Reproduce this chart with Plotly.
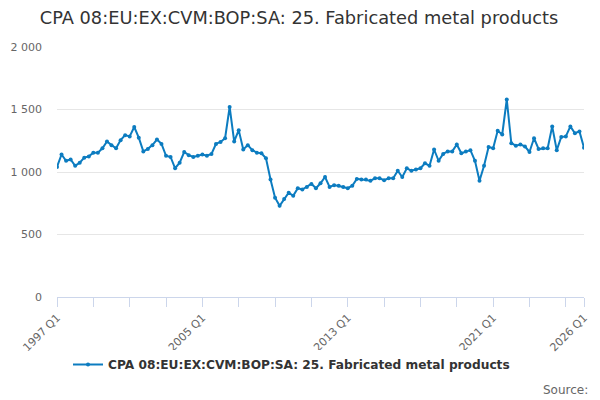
import plotly.graph_objects as go

periods = [f"{y} Q{q}" for y in range(1997, 2026) for q in range(1, 5)] + ["2026 Q1"]

values = [
    1040, 1140, 1090, 1100, 1050, 1075, 1115, 1125, 1155, 1155, 1190, 1245,
    1215, 1190, 1255, 1295, 1285, 1360, 1275, 1165, 1185, 1215, 1260, 1225,
    1130, 1120, 1030, 1075, 1160, 1135, 1120, 1130, 1140, 1130, 1145, 1225,
    1240, 1270, 1520, 1245, 1335, 1180, 1215, 1175, 1155, 1150, 1110, 940,
    795, 730, 785, 835, 810, 870, 860, 880, 905, 870, 910, 960,
    880, 895, 890, 880, 870, 890, 945, 940, 940, 930, 950, 950,
    935, 950, 950, 1010, 960, 1030, 1010, 1020, 1030, 1070, 1050, 1180,
    1090, 1145, 1165, 1165, 1220, 1150, 1165, 1175, 1090, 930, 1050, 1200,
    1190, 1330, 1300, 1580, 1230, 1210, 1220, 1205, 1160, 1270, 1185, 1190,
    1190, 1365, 1175, 1280, 1285, 1365, 1310, 1325, 1195,
]

x_tick_labels = ["1997 Q1", "2005 Q1", "2013 Q1", "2021 Q1", "2026 Q1"]
y_tick_values = [0, 500, 1000, 1500, 2000]
y_tick_labels = ["0", "500", "1 000", "1 500", "2 000"]

series_name = "CPA 08:EU:EX:CVM:BOP:SA: 25. Fabricated metal products"
idx = list(range(len(periods)))

# tick marks every 8 quarters, labels only on selected periods
tick_periods = [p for i, p in enumerate(periods) if i % 8 == 0 or i == len(periods) - 1]
x_tick_pos = [periods.index(p) for p in tick_periods]
x_tick_text = [p if p in x_tick_labels else "" for p in tick_periods]

fig = go.Figure()
fig.add_trace(go.Scatter(
    x=idx, y=values, mode="lines+markers", name=series_name,
    line=dict(color="#0c7cc0", width=2),
    marker=dict(color="#0c7cc0", size=4),
))

font = "DejaVu Sans, Verdana, sans-serif"
fig.update_layout(
    width=600, height=400,
    paper_bgcolor="white", plot_bgcolor="white",
    margin=dict(l=49, r=24, t=39, b=111),
    font=dict(family=font, color="#666666", size=11),
    title=dict(text=series_name, x=(299 - 8) / 600, xanchor="center",
               y=0.99, yanchor="top", yref="container",
               font=dict(size=17.8, color="#333333", family=font)),
    showlegend=True,
    legend=dict(orientation="h", x=0.445, xanchor="center", y=-0.212, yanchor="top",
                itemwidth=30,
                font=dict(size=12.2, color="#333333", family=font, weight="bold")),
    xaxis=dict(
        range=[0, len(periods) - 1], tickmode="array",
        tickvals=x_tick_pos, ticktext=x_tick_text, tickangle=-45,
        showgrid=False, zeroline=False, showline=True, linecolor="#ccd6eb",
        ticks="outside", ticklen=9, tickcolor="#ccd6eb", automargin=False,
        tickfont=dict(size=11, color="#666666"),
    ),
    yaxis=dict(
        range=[0, 2000], tickmode="array",
        tickvals=y_tick_values, ticktext=y_tick_labels,
        showgrid=True, gridcolor="#e6e6e6", zeroline=False, showline=False,
        ticks="", ticklabelstandoff=14, automargin=False,
        tickfont=dict(size=11, color="#666666"),
    ),
)
fig.add_annotation(text="Source:", xref="paper", yref="paper", x=1.0115, y=-0.336,
                   xanchor="right", yanchor="top", showarrow=False,
                   font=dict(size=12, color="#666666", family=font))

fig.write_html("out.html")
